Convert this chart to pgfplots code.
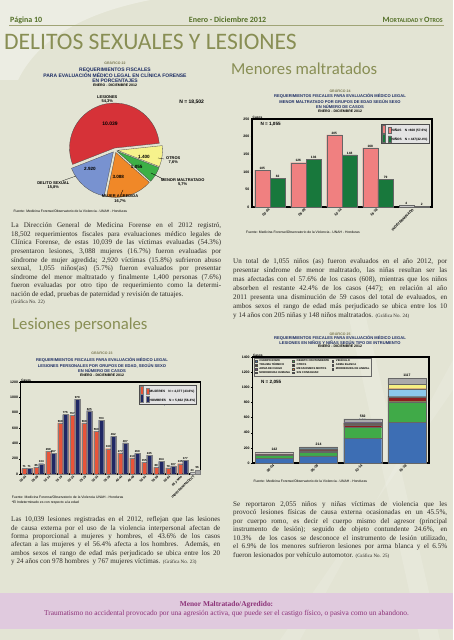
\documentclass[border=0pt]{standalone}
\usepackage{pgfplots}
\pgfplotsset{compat=1.18}
\usepackage{fontspec}
\setmainfont{Liberation Serif}
\newfontfamily\hf{Carlito}
\newfontfamily\cf{Liberation Sans}
\definecolor{bg}{RGB}{227,228,212}
\definecolor{olive}{RGB}{136,142,84}
\definecolor{hdr}{RGB}{84,112,40}
\definecolor{navy}{RGB}{28,44,100}
\definecolor{gtit}{RGB}{120,118,80}
\definecolor{txt}{RGB}{45,42,38}
\definecolor{pred}{RGB}{214,50,56}
\definecolor{pblue}{RGB}{120,146,208}
\definecolor{porange}{RGB}{240,136,40}
\definecolor{pgreen}{RGB}{60,176,70}
\definecolor{pyellow}{RGB}{246,242,140}
\definecolor{ninas}{RGB}{240,128,128}
\definecolor{ninos}{RGB}{24,120,60}
\definecolor{mujer}{RGB}{232,84,56}
\definecolor{hombre}{RGB}{32,40,100}
\definecolor{boxpink}{RGB}{224,202,222}
\definecolor{purp}{RGB}{140,50,120}
\definecolor{cA}{RGB}{61,110,180}
\definecolor{cB}{RGB}{64,170,72}
\definecolor{cC}{RGB}{140,30,30}
\definecolor{cD}{RGB}{90,60,30}
\definecolor{cE}{RGB}{40,40,40}
\definecolor{cF}{RGB}{140,200,235}
\definecolor{cG}{RGB}{120,60,140}
\definecolor{cH}{RGB}{230,130,40}
\definecolor{cI}{RGB}{245,240,130}
\definecolor{cJ}{RGB}{230,160,190}
\definecolor{cK}{RGB}{170,170,170}
\newcommand\bodyfont{\rmfamily\fontsize{7.1}{8}\selectfont\color{txt}}
\newcommand\jl[4]{\node[anchor=base west,inner sep=0pt,font=\bodyfont] at (#1,{640-#2}) {\makebox[#3pt][s]{#4}};}
\newcommand\nl[3]{\node[anchor=base west,inner sep=0pt,font=\bodyfont] at (#1,{640-#2}) {#3};}
\newcommand\gsmall[1]{{\fontsize{5}{6}\selectfont #1}}
\newcommand\ctf{\cf\bfseries}
\tikzset{pct/.style={font=\ctf\fontsize{3.4}{4}\selectfont,text=navy,inner sep=0.5pt},
         tot/.style={font=\ctf\fontsize{3.4}{4}\selectfont,anchor=south,inner sep=1.5pt}}
\pgfplotsset{
  chartax/.style={
    scale only axis, clip=false,
    axis line style={line width=1.1pt},
    xtick pos=bottom, ytick pos=left,
    xtick style={draw=none},
    ytick style={black,line width=.3pt},
    tick align=outside, major tick length=1.5pt,
    ticklabel style={font=\ctf\fontsize{3.5}{4}\selectfont, inner sep=1pt},
    xticklabel style={rotate=45, anchor=east},
    /pgf/number format/1000 sep={},
    /pgf/number format/assume math mode=true,
    every node near coord/.append style={font=\ctf\fontsize{3.2}{4}\selectfont, inner sep=0.6pt, black},
    legend image code/.code={\draw[##1,draw=black!70,line width=.2pt] (0pt,-0.9pt) rectangle (2.2pt,1.3pt);},
    legend style={fill=gray!22, draw=black!70, line width=.3pt, font=\ctf\fontsize{3.2}{3.6}\selectfont, inner sep=0.8pt, row sep=0pt, nodes={inner sep=0.5pt}, cells={anchor=west}},
  }
}
% pie angles from the values (thousands; N = 18.502 thousand)
\pgfmathsetmacro\aA{6}
\pgfmathsetmacro\aB{\aA+360*(10.039/18.502)}
\pgfmathsetmacro\aC{\aB+360*(2.920/18.502)}
\pgfmathsetmacro\aD{\aC+360*(3.088/18.502)}
\pgfmathsetmacro\aE{\aD+360*(1.055/18.502)}
\pgfmathsetmacro\aF{\aE+360*(1.400/18.502)}
\begin{document}
\begin{tikzpicture}[x=1pt,y=1pt]
\useasboundingbox (0,0) rectangle (453,640);
\fill[bg] (0,0) rectangle (453,640);
\fill[white,opacity=.35] (0,640) -- (150,640) .. controls (90,628) and (40,605) .. (18,560) -- (0,560) -- cycle;
\fill[white,opacity=.15] (345,340) -- (362,340) -- (440,0) -- (420,0) -- cycle;
\fill[white,opacity=.12] (453,250) -- (453,280) -- (300,0) -- (280,0) -- cycle;
% header
\node[anchor=base west,inner sep=0,font=\hf\bfseries\fontsize{8}{9}\selectfont,text=hdr] at (10,617) {Página 10};
\node[anchor=base,inner sep=0,font=\hf\bfseries\fontsize{8}{9}\selectfont,text=hdr] at (227.5,617) {Enero - Diciembre 2012};
\node[anchor=base east,inner sep=0,font=\hf\bfseries\fontsize{8}{9}\selectfont,text=hdr] at (443,617) {M{\fontsize{6}{7}\selectfont ORTALIDAD Y }O{\fontsize{6}{7}\selectfont TROS}};
\draw[olive!80,line width=.6pt] (9,614.5) -- (444,614.5);
\node[anchor=base west,inner sep=0,font=\hf\fontsize{23.6}{26}\selectfont,text=olive] at (4,590) {DELITOS SEXUALES Y LESIONES};
\node[anchor=base west,inner sep=0,font=\hf\fontsize{16.7}{18}\selectfont,text=olive] at (231,565) {Menores maltratados};
\node[anchor=base west,inner sep=0,font=\hf\fontsize{16.7}{18}\selectfont,text=olive] at (12,310.7) {Lesiones personales};

% ---------- GRAFICO 22 (pie) ----------
\node[font=\ctf\fontsize{3.5}{4}\selectfont,text=gtit] at (115,577.3) {GRÁFICO 22};
\node[font=\ctf\fontsize{5}{5.2}\selectfont,text=navy,align=center] at (115,564.7) {REQUERIMIENTOS FISCALES\\PARA EVALUACIÓN MÉDICO LEGAL EN CLÍNICA FORENSE\\EN PORCENTAJES};
\node[font=\ctf\fontsize{3.5}{4}\selectfont] at (115,554.3) {ENERO - DICIEMBRE 2012};
\begin{axis}[at={(115pt,490pt)}, anchor=center, x=1pt, y=1pt, xmin=-60, xmax=60, ymin=-60, ymax=60, hide axis, clip=false]
\addplot[draw=none, forget plot] coordinates {(0,0)};
\fill[pred,draw=black!70,line width=.3pt] ({2*cos((\aA+\aB)/2)},{2*sin((\aA+\aB)/2)}) -- ++(\aA:45pt) arc[start angle=\aA,end angle=\aB,radius=45pt] -- cycle;
\fill[pblue,draw=black!70,line width=.3pt] ({2.5*cos((\aB+\aC)/2)},{2.5*sin((\aB+\aC)/2)}) -- ++(\aB:45pt) arc[start angle=\aB,end angle=\aC,radius=45pt] -- cycle;
\fill[porange,draw=black!70,line width=.3pt] ({2.5*cos((\aC+\aD)/2)},{2.5*sin((\aC+\aD)/2)}) -- ++(\aC:45pt) arc[start angle=\aC,end angle=\aD,radius=45pt] -- cycle;
\fill[pgreen,draw=black!70,line width=.3pt] ({2.5*cos((\aD+\aE)/2)},{2.5*sin((\aD+\aE)/2)}) -- ++(\aD:45pt) arc[start angle=\aD,end angle=\aE,radius=45pt] -- cycle;
\fill[pyellow,draw=black!70,line width=.3pt] ({2.5*cos((\aE+\aF)/2)},{2.5*sin((\aE+\aF)/2)}) -- ++(\aE:45pt) arc[start angle=\aE,end angle=\aF,radius=45pt] -- cycle;
\end{axis}
\begin{scope}[every node/.style={font=\ctf\fontsize{4}{4.4}\selectfont,align=center,inner sep=0.5pt}]
\node at (107.3,540.5) {LESIONES\\54,3\%};
\node[font=\ctf\fontsize{5}{6}\selectfont] at (110,516.7) {10.039};
\node[font=\ctf\fontsize{5}{6}\selectfont] at (191.7,538.3) {N = 18,502};
\node[font=\ctf\fontsize{4.6}{5}\selectfont] at (144,483.3) {1.400};
\node at (173.3,479.3) {OTROS\\7,6\%};
\node[font=\ctf\fontsize{4.6}{5}\selectfont] at (136.7,472.7) {1.055};
\node at (182.7,457.5) {MENOR MALTRATADO\\5,7\%};
\node[font=\ctf\fontsize{4.6}{5}\selectfont] at (118.3,463.3) {3.088};
\node at (120,441.2) {MUJER AGREDIDA\\16,7\%};
\node[font=\ctf\fontsize{4.6}{5}\selectfont] at (90,470.7) {2.920};
\node at (53.3,454.5) {DELITO SEXUAL\\15,8\%};
\end{scope}
\draw[black,line width=.25pt] (164,481) -- (158,482);
\draw[black,line width=.25pt] (163,461) -- (151,467);
\draw[black,line width=.25pt] (121,446) -- (123,450);
\draw[black,line width=.25pt] (62,459) -- (76,464);
\node[anchor=west,inner sep=0,font=\cf\fontsize{3.4}{4}\selectfont] at (13.3,429) {Fuente: Medicina Forense/Observatorio de la Violencia - UNAH - Honduras};

% ---------- left top text ----------
\jl{11}{227.7}{210}{La Dirección General de Medicina Forense en el 2012 registró,}
\jl{11}{236.3}{210}{18,502 requerimientos fiscales para evaluaciones médico legales de}
\jl{11}{244.9}{210}{Clínica Forense, de estas 10,039 de las víctimas evaluadas (54.3\%)}
\jl{11}{253.5}{210}{presentaron lesiones, 3,088 mujeres (16.7\%) fueron evaluadas por}
\jl{11}{262.1}{210}{síndrome de mujer agredida; 2,920 víctimas (15.8\%) sufrieron abuso}
\jl{11}{270.7}{210}{sexual, 1,055 niños(as) (5.7\%) fueron evaluados por presentar}
\jl{11}{279.3}{210}{síndrome del menor maltratado y finalmente 1,400 personas (7.6\%)}
\jl{11}{287.9}{210}{fueron evaluadas por otro tipo de requerimiento como la determi-}
\nl{11}{296.5}{nación de edad, pruebas de paternidad y revisión de tatuajes.}
\nl{11}{303.5}{\gsmall{(Gráfica No. 22)}}

% ---------- right top text ----------
\jl{233}{264}{214}{Un total de 1,055 niños (as) fueron evaluados en el año 2012, por}
\jl{233}{273}{214}{presentar síndrome de menor maltratado, las niñas resultan ser las}
\jl{233}{282}{214}{mas afectadas con el 57.6\% de los casos (608), mientras que los niños}
\jl{233}{291}{214}{absorben el restante 42.4\% de los casos (447); en relación al año}
\jl{233}{300}{214}{2011 presenta una disminución de 59 casos del total de evaluados, en}
\jl{233}{309}{214}{ambos sexos el rango de edad más perjudicado se ubica entre los 10}
\nl{233}{318}{y 14 años con 205 niñas y 148 niños maltratados. \gsmall{(Gráfica No. 24)}}

% ---------- left bottom text ----------
\jl{11}{522}{209}{Las 10,039 lesiones registradas en el 2012, reflejan que las lesiones}
\jl{11}{530.3}{209}{de causa externa por el uso de la violencia interpersonal afectan de}
\jl{11}{538.7}{209}{forma proporcional a mujeres y hombres, el 43.6\% de los casos}
\jl{11}{547}{209}{afectan a las mujeres y el 56.4\% afecta a los hombres. Además, en}
\jl{11}{555.3}{209}{ambos sexos el rango de edad más perjudicado se ubica entre los 20}
\nl{11}{563.7}{y 24 años con 978 hombres~ y 767 mujeres víctimas. \gsmall{(Gráfica No. 23)}}

% ---------- right bottom text ----------
\jl{233}{506.5}{214}{Se reportaron 2,055 niños y niñas víctimas de violencia que les}
\jl{233}{515}{214}{provocó lesiones físicas de causa externa ocasionadas en un 45.5\%,}
\jl{233}{523.5}{214}{por cuerpo romo, es decir el cuerpo mismo del agresor (principal}
\jl{233}{532}{214}{instrumento de lesión); seguido de objeto contundente 24.6\%, en}
\jl{233}{540.5}{214}{10.3\%~ de los casos se desconoce el instrumento de lesión utilizado,}
\jl{233}{549}{214}{el 6.9\% de los menores sufrieron lesiones por arma blanca y el 6.5\%}
\nl{233}{557.5}{fueron lesionados por vehículo automotor. \gsmall{(Gráfica No. 25)}}

% ---------- bottom box ----------
\fill[boxpink] (0,11) rectangle (453,47);
\node[anchor=base,inner sep=0,font=\rmfamily\bfseries\fontsize{7.4}{8}\selectfont,text=purp] at (226.5,34) {Menor Maltratado/Agredido:};
\node[anchor=base,inner sep=0,font=\rmfamily\fontsize{7.4}{8}\selectfont,text=purp] at (226.5,24) {Traumatismo no accidental provocado por una agresión activa, que puede ser el castigo físico, o pasiva como un abandono.};

% ---------- GRAFICO 24 ----------
\node[font=\ctf\fontsize{3.5}{4}\selectfont,text=gtit] at (340,549.3) {GRÁFICO 24};
\node[font=\ctf\fontsize{4.1}{5.4}\selectfont,text=navy,align=center] at (340,538.5) {REQUERIMIENTOS FISCALES PARA EVALUACIÓN MÉDICO LEGAL\\MENOR MALTRATADO POR GRUPOS DE EDAD SEGÚN SEXO\\EN NÚMERO DE CASOS};
\node[font=\ctf\fontsize{3.5}{4}\selectfont] at (340,528.3) {ENERO - DICIEMBRE 2012};
\begin{axis}[chartax, at={(252pt,433pt)}, anchor=south west, width=180pt, height=88pt,
  axis line style={line width=1.3pt},
  ymin=0, ymax=250, ytick={0,50,...,250},
  xmin=-0.5, xmax=4.5, xtick={0,...,4},
  xticklabels={00-04,05-09,10-14,15-18,INDETERMINADO},
  ybar=0pt, bar width=15.3pt, nodes near coords,
  legend style={at={(0.983,0.943)},anchor=north east}]
\addplot[fill=ninas, draw=black!60, line width=.2pt, bar shift=-7.65pt] coordinates {(0,105) (1,126) (2,205) (3,168)};
\addplot[fill=ninos, draw=black!60, line width=.2pt, bar shift=7.65pt] coordinates {(0,82) (1,136) (2,148) (3,79)};
\addplot[fill=gray!45, draw=black!60, line width=.2pt, bar shift=-7.65pt, forget plot] coordinates {(4,4)};
\addplot[fill=gray!75, draw=black!60, line width=.2pt, bar shift=7.65pt, forget plot] coordinates {(4,2)};
\addlegendentry{NIÑAS\quad N =608 (57.6\%)}
\addlegendentry{NIÑOS\quad N = 447(42.4\%)}
\node[anchor=west,font=\ctf\fontsize{4.6}{5}\selectfont] at (rel axis cs:0.028,0.943) {N = 1,055};
\node[anchor=south west,inner sep=0.5pt,font=\ctf\fontsize{3.2}{4}\selectfont] at (rel axis cs:0,1) {Casos};
\end{axis}
\node[anchor=west,inner sep=0,font=\cf\fontsize{3.4}{4}\selectfont] at (246,407.3) {Fuente: Medicina Forense/Observatorio de la Violencia - UNAH - Honduras};

% ---------- GRAFICO 23 ----------
\node[font=\ctf\fontsize{3.5}{4}\selectfont,text=gtit] at (102,286.7) {GRÁFICO 23};
\node[font=\ctf\fontsize{4.1}{5.4}\selectfont,text=navy,align=center] at (102,274.6) {REQUERIMIENTOS FISCALES PARA EVALUACIÓN MÉDICO LEGAL\\LESIONES PERSONALES POR GRUPOS DE EDAD, SEGÚN SEXO\\EN NÚMERO DE CASOS};
\node[font=\ctf\fontsize{3.5}{4}\selectfont] at (102,265) {ENERO - DICIEMBRE 2012};
\begin{axis}[chartax, at={(20.7pt,166pt)}, anchor=south west, width=180pt, height=92pt,
  ymin=0, ymax=1200, ytick={0,200,...,1200},
  xmin=-0.5, xmax=14.5, xtick={0,...,14},
  xticklabels={00-04,05-09,10-14,15-19,20-24,25-29,30-34,35-39,40-44,45-49,50-54,55-59,60-64,65 y Más,INDETERMINADO(*)},
  xticklabel style={font=\ctf\fontsize{3.2}{3.6}\selectfont},
  ybar=0pt, bar width=5pt, nodes near coords,
  every node near coord/.append style={font=\ctf\fontsize{2.9}{3.3}\selectfont},
  legend style={at={(0.978,0.967)},anchor=north east}]
\addplot[fill=mujer, draw=black!50, line width=.2pt, bar shift=-2.5pt] coordinates {(0,71) (1,86) (2,298) (3,668) (4,767) (5,668) (6,560) (7,330) (8,277) (9,210) (10,155) (11,88) (12,79) (13,135)};
\addplot[fill=hombre, draw=black!50, line width=.2pt, bar shift=2.5pt] coordinates {(0,71) (1,134) (2,267) (3,776) (4,978) (5,825) (6,703) (7,492) (8,407) (9,269) (10,245) (11,164) (12,107) (13,177)};
\addplot[fill=gray!35, draw=black!50, line width=.2pt, bar shift=-2.5pt, forget plot] coordinates {(14,23)};
\addplot[fill=gray!70, draw=black!50, line width=.2pt, bar shift=2.5pt, forget plot] coordinates {(14,56)};
\addlegendentry{MUJERES\quad N = 4,377 (43.6\%)}
\addlegendentry{HOMBRES\quad N = 5,662 (56.4\%)}
\node[font=\ctf\fontsize{4.6}{5}\selectfont,text=navy] at (rel axis cs:0.783,0.76) {N = 10,039};
\node[anchor=south west,inner sep=0.5pt,font=\ctf\fontsize{3.2}{4}\selectfont] at (rel axis cs:0,1) {Casos};
\end{axis}
\node[anchor=west,inner sep=0,font=\cf\fontsize{3.4}{4}\selectfont] at (11.7,143) {Fuente: Medicina Forense/Observatorio de la Violencia UNAH - Honduras};
\node[anchor=west,inner sep=0,font=\cf\fontsize{3.4}{4}\selectfont] at (11.7,137.5) {*El Indeterminado es con respecto a la edad};

% ---------- GRAFICO 25 ----------
\node[font=\ctf\fontsize{3.5}{4}\selectfont,text=gtit] at (340,305.7) {GRÁFICO 25};
\node[font=\ctf\fontsize{4.1}{4.2}\selectfont,text=navy,align=center] at (340,299.7) {REQUERIMIENTOS FISCALES PARA EVALUACIÓN MÉDICO LEGAL\\LESIONES EN NIÑOS Y NIÑAS SEGÚN TIPO DE INTRUMENTO};
\node[font=\ctf\fontsize{3.5}{4}\selectfont] at (340,293.3) {ENERO - DICIEMBRE 2012};
\begin{axis}[chartax, at={(252.3pt,177pt)}, anchor=south west, width=176.7pt, height=106pt,
  axis line style={line width=1.3pt},
  ymin=0, ymax=1400, ytick={0,200,...,1400},
  xmin=-0.5, xmax=3.5, xtick={0,...,3},
  xticklabels={00-04,05-09,10-14,15-18},
  ybar stacked, bar width=38pt,
  legend columns=3,
  legend style={at={(0.01,0.99)},anchor=north west,fill=none,draw=black!60,font=\ctf\fontsize{2.7}{3}\selectfont,column sep=2pt,row sep=-0.6pt,nodes={inner sep=0.4pt}},
  legend image code/.code={\draw[#1,draw=black!70,line width=.15pt] (0pt,-0.7pt) rectangle (1.8pt,1.1pt);}]
\addplot[fill=cA, draw=black!60, line width=.2pt] coordinates {(0,65) (1,93) (2,330) (3,540)};
\addplot[fill=cB, draw=black!60, line width=.2pt] coordinates {(0,35) (1,50) (2,145) (3,270)};
\addplot[fill=cC, draw=black!60, line width=.2pt] coordinates {(0,8) (1,20) (2,30) (3,58)};
\addplot[fill=cD, draw=black!60, line width=.2pt] coordinates {(0,5) (1,10) (2,12) (3,4)};
\addplot[fill=cE, draw=black!60, line width=.2pt] coordinates {(0,4) (1,10) (2,8) (3,4)};
\addplot[fill=cF, draw=black!60, line width=.2pt] coordinates {(0,3) (1,6) (2,5) (3,100)};
\addplot[fill=cG, draw=black!60, line width=.2pt] coordinates {(0,0) (1,0) (2,2) (3,4)};
\addplot[fill=cH, draw=black!60, line width=.2pt] coordinates {(0,0) (1,0) (2,2) (3,2)};
\addplot[fill=cI, draw=black!60, line width=.2pt] coordinates {(0,2) (1,5) (2,4) (3,55)};
\addplot[fill=cJ, draw=black!60, line width=.2pt] coordinates {(0,1) (1,2) (2,2) (3,2)};
\addplot[fill=cK, draw=black!60, line width=.2pt] coordinates {(0,19) (1,18) (2,42) (3,78)};
\addlegendentry{CUERPO ROMO}
\addlegendentry{OBJETO CONTUNDENTE}
\addlegendentry{VEHÍCULO}
\addlegendentry{TRAUMA TÉRMICO}
\addlegendentry{OTROS}
\addlegendentry{ARMA BLANCA}
\addlegendentry{ARMA DE FUEGO}
\addlegendentry{MECANISMOS MIXTOS}
\addlegendentry{MORDEDURA DE ANIMAL}
\addlegendentry{MORDEDURA HUMANA}
\addlegendentry{SIN CONSIGNAR}
\node[pct] at (axis cs:0,32) {2.2\%};
\node[pct] at (axis cs:1,46) {3.7\%};
\node[pct] at (axis cs:1,118) {3.3\%};
\node[pct] at (axis cs:2,165) {14.2\%};
\node[pct] at (axis cs:2,402) {6.8\%};
\node[pct] at (axis cs:2,490) {1.9\%};
\node[pct] at (axis cs:2,561) {2.2\%};
\node[pct] at (axis cs:3,270) {25.3\%};
\node[pct] at (axis cs:3,675) {13.1\%};
\node[pct] at (axis cs:3,839) {3\%};
\node[pct] at (axis cs:3,926) {5.2\%};
\node[pct] at (axis cs:3,1009) {3.1\%};
\node[pct] at (axis cs:3,1078) {5.1\%};
\node[tot] at (axis cs:0,142) {142};
\node[tot] at (axis cs:1,214) {214};
\node[tot] at (axis cs:2,582) {582};
\node[tot] at (axis cs:3,1117) {1117};
\node[anchor=west,font=\ctf\fontsize{4.6}{5}\selectfont] at (rel axis cs:0.03,0.765) {N = 2,055};
\node[anchor=south west,inner sep=0.5pt,font=\ctf\fontsize{3.2}{4}\selectfont] at (rel axis cs:0,1) {Casos};
\end{axis}
\node[anchor=west,inner sep=0,font=\cf\fontsize{3.4}{4}\selectfont] at (253.3,159) {Fuente: Medicina Forense/Observatorio de la Violencia - UNAH - Honduras};
\end{tikzpicture}
\end{document}
